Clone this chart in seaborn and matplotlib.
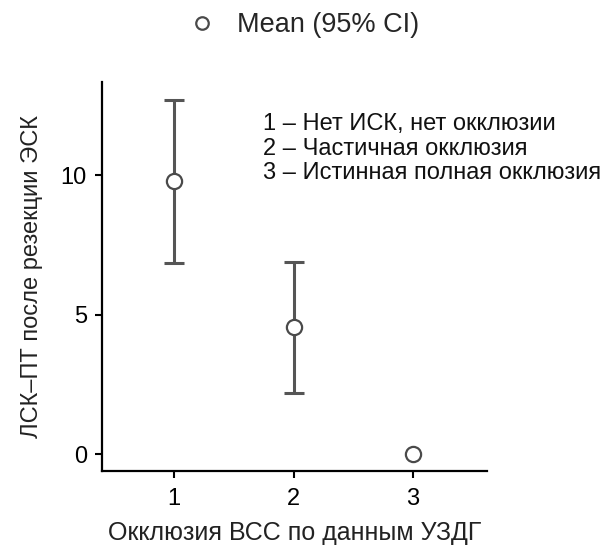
import numpy as np
import pandas as pd
import seaborn as sns
import matplotlib
matplotlib.use("Agg")
import matplotlib.pyplot as plt
from matplotlib.lines import Line2D

# values
groups = [1, 2, 3]
means = [9.8, 4.55, 0.0]
ci_low = [6.86, 2.2, 0.0]
ci_high = [12.72, 6.9, 0.0]
group_labels = ["1 – Нет ИСК, нет окклюзии",
                "2 – Частичная окклюзия",
                "3 – Истинная полная окклюзия"]
x_ticks = [1, 2, 3]
y_ticks = [0, 5, 10]

df = pd.DataFrame({"group": groups, "mean": means, "lo": ci_low, "hi": ci_high})

sns.set_style("ticks")
plt.rcParams["font.family"] = ["Liberation Sans", "DejaVu Sans"]

fig = plt.figure(figsize=(6.08, 5.45), dpi=100)
ax = fig.add_axes([0.168, 0.136, 0.633, 0.714])

line_col = "#555555"

# error bars for the 95% CI (skip the group without spread)
has_ci = df["hi"] > df["lo"]
sub = df[has_ci]
ax.errorbar(sub["group"], sub["mean"],
            yerr=[sub["mean"] - sub["lo"], sub["hi"] - sub["mean"]],
            fmt="none", ecolor=line_col, elinewidth=2.2, capsize=7.5, capthick=2.2,
            zorder=2)

sns.scatterplot(data=df, x="group", y="mean", ax=ax, marker="o", s=120,
                facecolor="white", edgecolor="#4a4a4a", linewidth=1.6, zorder=3,
                legend=False)

ax.set_xlim(0.397, 3.62)
ax.set_ylim(-0.6, 13.36)
ax.set_xticks(x_ticks)
ax.set_yticks(y_ticks)
ax.tick_params(axis="both", direction="out", length=5, width=1.5, colors="black",
               labelsize=17, pad=6)
ax.tick_params(axis="x", pad=7)
for side in ["top", "right"]:
    ax.spines[side].set_visible(False)
for side in ["left", "bottom"]:
    ax.spines[side].set_linewidth(1.6)
    ax.spines[side].set_color("black")

ax.set_xlabel("Окклюзия ВСС по данным УЗДГ", fontsize=18, labelpad=8, color="#222222")
ax.set_ylabel("ЛСК–ПТ после резекции ЭСК", fontsize=17, labelpad=13, color="#222222")

line_y = [0.891, 0.828, 0.765]
for txt, yy in zip(group_labels, line_y):
    ax.text(0.418, yy, txt, transform=ax.transAxes, fontsize=17, va="center",
            ha="left", color="#111111")

handle = Line2D([], [], marker="o", linestyle="none", markersize=9,
                markerfacecolor="white", markeredgecolor="#4a4a4a", markeredgewidth=1.6)
fig.legend([handle], ["Mean (95% CI)"], loc="center", bbox_to_anchor=(0.5, 0.954),
           frameon=False, fontsize=19.5, handlelength=1.0, handletextpad=0.8)

fig.savefig("out.png", dpi=100)
